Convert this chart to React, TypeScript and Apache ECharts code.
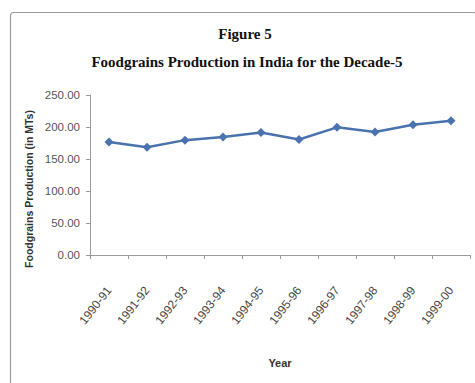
import React, { useEffect, useRef } from "react";
import * as echarts from "echarts";

const years = ["1990-91", "1991-92", "1992-93", "1993-94", "1994-95", "1995-96", "1996-97", "1997-98", "1998-99", "1999-00"];
const production = [176.39, 168.38, 179.48, 184.26, 191.5, 180.42, 199.44, 192.26, 203.61, 209.8];
const titleLines = ["Figure 5", "Foodgrains Production in India for the Decade-5"];
const yAxisTitle = "Foodgrains Production (in MTs)";
const xAxisTitle = "Year";

export default function App() {
  const ref = useRef<HTMLDivElement>(null);
  useEffect(() => {
    if (!ref.current) return;
    const chart = echarts.init(ref.current, null, { renderer: "svg" });
    chart.setOption({
      animation: false,
      backgroundColor: "#ffffff",
      graphic: [
        {
          type: "rect",
          left: 8,
          top: 10,
          shape: { x: 0, y: 0, width: 466, height: 390, r: 3 },
          style: { fill: "none", stroke: "#9a9a9a", lineWidth: 1.2 },
          silent: true,
        },
        {
          type: "text",
          x: 29,
          y: 189,
          rotation: Math.PI / 2,
          style: {
            text: yAxisTitle,
            align: "center",
            verticalAlign: "middle",
            fontFamily: "Liberation Sans",
            fontWeight: "bold",
            fontSize: 10.5,
            fill: "#333",
          },
          silent: true,
        },
      ],
      title: [
        {
          text: titleLines[0],
          left: 240,
          textAlign: "center",
          top: 21,
          textStyle: { fontFamily: "Liberation Serif", fontWeight: "bold", fontSize: 15, color: "#111" },
        },
        {
          text: titleLines[1],
          left: 242,
          textAlign: "center",
          top: 49,
          textStyle: { fontFamily: "Liberation Serif", fontWeight: "bold", fontSize: 15, color: "#111" },
        },
      ],
      grid: { left: 90, right: 5, top: 95, bottom: 128, containLabel: false },
      xAxis: {
        type: "category",
        data: years,
        boundaryGap: true,
        name: xAxisTitle,
        nameLocation: "middle",
        nameGap: 102,
        nameTextStyle: { fontFamily: "Liberation Sans", fontWeight: "bold", fontSize: 11, color: "#333" },
        axisLine: { lineStyle: { color: "#9a9a9a", width: 1 } },
        axisTick: { show: true, alignWithLabel: false, length: 4, lineStyle: { color: "#9a9a9a" } },
        axisLabel: {
          rotate: 52,
          margin: 33,
          interval: 0,
          fontFamily: "Liberation Sans",
          fontSize: 12,
          color: "#444",
        },
      },
      yAxis: {
        type: "value",
        min: 0,
        max: 250,
        interval: 50,
        axisLine: { show: true, lineStyle: { color: "#9a9a9a", width: 1 } },
        axisTick: { show: true, length: 4, lineStyle: { color: "#9a9a9a" } },
        splitLine: { show: false },
        axisLabel: {
          margin: 10,
          fontFamily: "Liberation Sans",
          fontSize: 11.5,
          color: "#555",
          formatter: (v: number) => v.toFixed(2),
        },
      },
      series: [
        {
          type: "line",
          data: production,
          symbol: "diamond",
          symbolSize: 9,
          lineStyle: { color: "#4a72ae", width: 2.5 },
          itemStyle: { color: "#4a72ae" },
        },
      ],
    });
    return () => chart.dispose();
  }, []);
  return <div ref={ref} style={{ position: "fixed", left: 0, top: 0, width: 475, height: 383 }} />;
}
